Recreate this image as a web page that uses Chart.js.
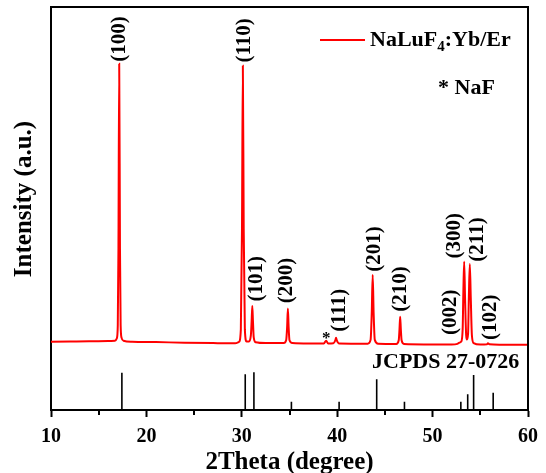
<!DOCTYPE html>
<html>
<head>
<meta charset="utf-8">
<script src="https://cdn.jsdelivr.net/npm/chart.js@4.4.1/dist/chart.umd.min.js"></script>
<style>
  html, body { margin: 0; padding: 0; background: #fff; }
  #xrd { display: block; }
</style>
</head>
<body>
<canvas id="xrd" width="546" height="473"></canvas>
<script>
const twoTheta = [10, 12, 14, 16, 16.7, 16.9, 17.0, 17.07, 17.15, 17.23, 17.3, 17.4, 17.6, 18.5, 21, 24, 27,
    29.3, 29.7, 29.9, 30.02, 30.11, 30.2, 30.32, 30.5, 30.75, 30.95, 31.03, 31.1, 31.17, 31.25, 31.45, 32.5,
    34.4, 34.65, 34.75, 34.83, 34.91, 35.0, 35.3, 37.0, 38.6, 38.84, 39.05, 39.6, 39.8, 39.88, 39.96, 40.2,
    43.2, 43.5, 43.62, 43.72, 43.82, 43.94, 44.3, 46.2, 46.45, 46.53, 46.6, 46.67, 46.75, 47.0,
    52.0, 52.6, 52.8, 53.0, 53.15, 53.23, 53.31, 53.4, 53.52, 53.6, 53.72, 53.8, 53.9, 54.0, 54.12, 54.3,
    55.0, 55.7, 55.8, 55.95, 57.0, 60.0];
const intensity = [16.95, 17.0, 17.05, 17.1, 17.2, 17.8, 21, 40, 85.9, 40, 21, 17.9, 17.2, 16.95, 16.85, 16.7, 16.6,
    16.55, 16.9, 20, 45, 85.4, 45, 20, 17.0, 17.0, 18.5, 22, 25.8, 22, 18, 16.8, 16.6,
    16.6, 17.3, 20.5, 25.2, 20.5, 17.3, 16.6, 16.5, 16.5, 17.2, 16.5, 16.55, 17.3, 17.9, 17.3, 16.5,
    16.45, 17.4, 24, 33.5, 24, 17.4, 16.45, 16.4, 17.3, 20, 23.15, 20, 17.3, 16.4,
    16.25, 16.4, 16.7, 17.0, 20, 30, 36.8, 28, 18.5, 17.5, 19, 28, 36.2, 28, 18.5, 16.6,
    16.25, 16.3, 16.55, 16.3, 16.2, 16.2];

// JCPDS 27-0726 reference lines
const refPos = [17.43, 30.36, 31.27, 35.2, 40.2, 44.14, 47.05, 52.96, 53.68, 54.3, 56.35];
const refInt = [9.25, 8.86, 9.35, 2.06, 2.06, 7.6, 2.06, 2.06, 3.9, 8.7, 4.3];

// hkl labels: text, centre in 2theta, foot level in intensity units
const hklText = ['(100)', '(110)', '(101)', '(200)', '(111)', '(201)', '(210)', '(002)', '(300)', '(211)', '(102)'];
const hklPos = [17.22, 30.29, 31.52, 34.66, 40.23, 43.89, 46.68, 51.91, 52.3, 54.7, 56.1];
const hklFoot = [86.4, 86.2, 26.9, 26.5, 19.4, 34.3, 24.4, 18.6, 37.6, 36.8, 17.4];
const starPos = 38.84;
const starLevel = 18.4;

const serif = '"Liberation Serif", "Times New Roman", serif';

let patternData = twoTheta.map((t, i) => ({x: t, y: intensity[i]}));
let stickData = [];
refPos.forEach((p, i) => {
    stickData.push({x: p, y: 0}, {x: p, y: refInt[i]}, {x: p, y: null});
});

const decor = {
    id: 'decor',
    afterDraw(chart) {
        const {ctx, chartArea: area, scales: {x, y}} = chart;
        ctx.save();
        ctx.strokeStyle = '#000';
        ctx.lineWidth = 2;
        // top and right side of the frame
        ctx.beginPath();
        ctx.moveTo(area.left, area.top);
        ctx.lineTo(area.right, area.top);
        ctx.lineTo(area.right, area.bottom);
        ctx.stroke();
        // minor ticks
        for (let v = 15; v < 60; v += 10) {
            let px = Math.round(x.getPixelForValue(v));
            ctx.beginPath();
            ctx.moveTo(px, area.bottom);
            ctx.lineTo(px, area.bottom + 5);
            ctx.stroke();
        }

        ctx.fillStyle = '#000';
        ctx.textBaseline = 'middle';

        // y axis title (sits a little above the middle in the original)
        ctx.save();
        ctx.font = 'bold 25px ' + serif;
        ctx.textAlign = 'center';
        ctx.translate(25, 199);
        ctx.rotate(-Math.PI / 2);
        ctx.fillText('Intensity (a.u.)', 0, 0);
        ctx.restore();

        // peak labels, rotated
        ctx.font = 'bold 21px ' + serif;
        ctx.textAlign = 'left';
        hklText.forEach((t, i) => {
            ctx.save();
            ctx.translate(x.getPixelForValue(hklPos[i]), y.getPixelForValue(hklFoot[i]));
            ctx.rotate(-Math.PI / 2);
            ctx.fillText(t, 0, 0);
            ctx.restore();
        });
        ctx.font = 'bold 17px ' + serif;
        ctx.textAlign = 'center';
        ctx.fillText('*', x.getPixelForValue(starPos), y.getPixelForValue(starLevel) + 3);

        // legend
        ctx.strokeStyle = 'rgb(255,0,0)';
        ctx.beginPath();
        ctx.moveTo(320, 40);
        ctx.lineTo(365, 40);
        ctx.stroke();
        ctx.textAlign = 'left';
        let lx = 370;
        ctx.font = 'bold 22px ' + serif;
        ctx.fillText('NaLuF', lx, 40);
        lx += ctx.measureText('NaLuF').width;
        ctx.font = 'bold 15px ' + serif;
        ctx.fillText('4', lx, 47);
        lx += ctx.measureText('4').width;
        ctx.font = 'bold 22px ' + serif;
        ctx.fillText(':Yb/Er', lx, 40);
        ctx.fillText('* NaF', 438, 88);

        ctx.fillText('JCPDS 27-0726', 372, 362);
        ctx.restore();
    }
};

let ctx = document.getElementById('xrd');
new Chart(ctx, {
    type: 'line',
    data: {
        datasets: [{
            label: 'NaLuF4:Yb/Er',
            data: patternData,
            borderColor: 'rgb(255,0,0)',
            borderWidth: 2,
            pointRadius: 0,
            cubicInterpolationMode: 'monotone',
            fill: false
        }, {
            label: 'JCPDS 27-0726',
            data: stickData,
            borderColor: '#000',
            borderWidth: 1.6,
            pointRadius: 0,
            spanGaps: false,
            fill: false
        }]
    },
    options: {
        responsive: false,
        animation: false,
        layout: {padding: {top: 7, right: 17, left: 0, bottom: 0}},
        scales: {
            x: {
                type: 'linear',
                min: 10,
                max: 60,
                afterFit: s => { s.height = 63; },
                ticks: {
                    stepSize: 10,
                    color: '#000',
                    padding: 8,
                    font: {family: serif, weight: 'bold', size: 20}
                },
                grid: {
                    drawOnChartArea: false,
                    tickLength: 7,
                    tickWidth: 2,
                    tickColor: '#000'
                },
                border: {color: '#000', width: 2},
                title: {
                    display: true,
                    text: '2Theta (degree)',
                    color: '#000',
                    padding: {top: 0, bottom: -2},
                    font: {family: serif, weight: 'bold', size: 25, lineHeight: 1}
                }
            },
            y: {
                min: 0,
                max: 100,
                afterFit: s => { s.width = 51; },
                ticks: {display: false},
                grid: {display: false},
                border: {display: true, color: '#000', width: 2},
                title: {display: false, text: 'Intensity (a.u.)'}
            }
        },
        plugins: {
            legend: {display: false},
            tooltip: {enabled: false}
        }
    },
    plugins: [decor]
});
</script>
</body>
</html>
